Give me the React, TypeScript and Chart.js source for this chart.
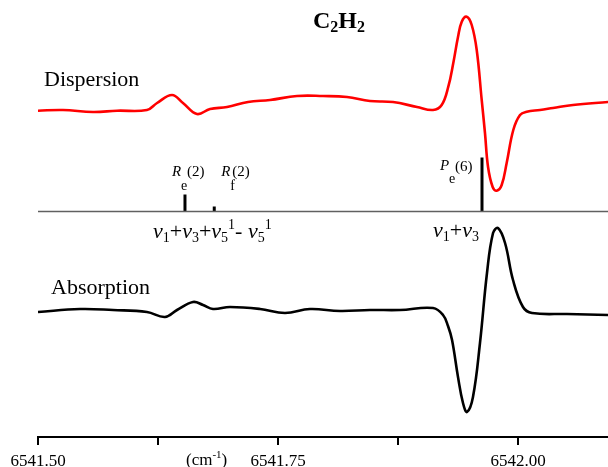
import React, { useEffect, useRef } from "react";
import { Chart, registerables } from "chart.js";

Chart.register(...registerables);

// Wavenumber axis (cm-1)
const X_MIN = 6541.5;
const X_MAX = 6542.09375;
const X_STEP = 0.125;
const X_LABEL_STEP = 0.25;

// Dispersion signal (arbitrary units)
const dispX = [
  6541.5, 6541.526, 6541.5573, 6541.5823, 6541.6135, 6541.624, 6541.6396, 6541.651,
  6541.6656, 6541.6792, 6541.6969, 6541.7188, 6541.7417, 6541.7698, 6541.7969,
  6541.8219, 6541.8458, 6541.8698, 6541.8948, 6541.9115, 6541.9205, 6541.9274,
  6541.9326, 6541.9375, 6541.9414, 6541.9466, 6541.9518, 6541.957, 6541.9622,
  6541.9656, 6541.9688, 6541.9736, 6541.9778, 6541.983, 6541.9882, 6541.9951,
  6542.0021, 6542.0091, 6542.0229, 6542.0365, 6542.0573, 6542.0938,
];
const dispY = [
  -0.7, 0, -2, -0.7, 0, 7, 15, 7,
  -4, 1, 3, 8, 10, 14, 14,
  13, 9, 8, 3, 0, 5, 23.3,
  47, 73, 88.3, 93.3, 85, 60, 10,
  -23, -57, -77, -80.7, -75, -53, -20,
  -5, -1.7, 0, 2, 5, 8,
];

// Absorption signal (arbitrary units)
const absX = [
  6541.5, 6541.5438, 6541.5781, 6541.6135, 6541.6323, 6541.6448, 6541.6615, 6541.6719,
  6541.6823, 6541.7, 6541.7313, 6541.7573, 6541.7833, 6541.8146, 6541.8458, 6541.8771,
  6541.9115, 6541.9219, 6541.9271, 6541.9313, 6541.9375, 6541.9427, 6541.9469, 6541.9531,
  6541.9604, 6541.9677, 6541.974, 6541.9792, 6541.9865, 6541.9948, 6542.0052, 6542.0146,
  6542.051, 6542.0938,
];
const absY = [
  0, 3, 2, 0, -5, 2, 10, 7,
  3, 5, 3, -1, 3, 1, 2, 2,
  4, -3, -14, -28, -65, -91, -100, -85,
  -31, 39, 79, 84, 69, 32, 5, -1,
  -2, -3,
];

// Line positions (stick spectrum)
const stickNames = ["Re(2)", "Rf(2)", "Pe(6)"];
const stickX = [6541.6531, 6541.6836, 6541.9625];
const stickH = [17, 5, 54];

// vertical offsets of the stacked traces (in y-scale units)
const Y_MAX = 437;
const DISP_OFFSET = 327;
const ABS_OFFSET = 125;
const STICK_BASE = 225.5;

const SERIF = "'Liberation Serif', 'Times New Roman', serif";

function rich(ctx: CanvasRenderingContext2D, x: number, y: number, parts: [string, string, number][]) {
  let cx = x;
  for (const [t, f, dy] of parts) {
    ctx.font = f;
    ctx.fillText(t, cx, y + dy);
    cx += ctx.measureText(t).width;
  }
}

const textPlugin = {
  id: "texts",
  afterDraw(chart: any) {
    const ctx: CanvasRenderingContext2D = chart.ctx;
    const xs = chart.scales.x;
    ctx.save();
    ctx.fillStyle = "#000";
    ctx.textBaseline = "alphabetic";
    ctx.textAlign = "left";

    // title
    const B = `bold 24px ${SERIF}`;
    const Bs = `bold 16px ${SERIF}`;
    rich(ctx, 313, 28, [["C", B, 0], ["2", Bs, 4], ["H", B, 0], ["2", Bs, 4]]);

    // trace names
    ctx.font = `22px ${SERIF}`;
    ctx.fillText("Dispersion", 44, 86);
    ctx.fillText("Absorption", 51, 294);

    // stick labels
    const I15 = `italic 15px ${SERIF}`;
    const N15 = `15px ${SERIF}`;
    const N14 = `14px ${SERIF}`;
    const p0 = xs.getPixelForValue(stickX[0]);
    const p1 = xs.getPixelForValue(stickX[1]);
    const p2 = xs.getPixelForValue(stickX[2]);
    ctx.font = I15; ctx.fillText("R", p0 - 13, 176);
    ctx.font = N14; ctx.fillText("e", p0 - 4, 190);
    ctx.font = N15; ctx.fillText("(2)", p0 + 2, 176);
    ctx.font = I15; ctx.fillText("R", p1 + 7, 176);
    ctx.font = N14; ctx.fillText("f", p1 + 16, 190);
    ctx.font = N15; ctx.fillText("(2)", p1 + 18, 176);
    ctx.font = I15; ctx.fillText("P", p2 - 42, 170);
    ctx.font = N14; ctx.fillText("e", p2 - 33, 183);
    ctx.font = N15; ctx.fillText("(6)", p2 - 27, 171);

    // band assignments
    const G = `italic 22px ${SERIF}`;
    const N = `22px ${SERIF}`;
    const S = `14px ${SERIF}`;
    rich(ctx, 153, 238, [
      ["\u03BD", G, 0], ["1", S, 4], ["+", N, 0],
      ["\u03BD", G, 0], ["3", S, 4], ["+", N, 0],
      ["\u03BD", G, 0], ["5", S, 4], ["1", S, -9], ["-", N, 0], [" ", N, 0],
      ["\u03BD", G, 0], ["5", S, 4], ["1", S, -9],
    ]);
    rich(ctx, 433, 237, [
      ["\u03BD", G, 0], ["1", S, 4], ["+", N, 0],
      ["\u03BD", G, 0], ["3", S, 4],
    ]);

    // axis unit
    rich(ctx, 186, 465, [["(cm", `17px ${SERIF}`, 0], ["-1", `11px ${SERIF}`, -7], [")", `17px ${SERIF}`, 0]]);
    ctx.restore();
  },
};

export default function App() {
  const ref = useRef<HTMLCanvasElement | null>(null);
  useEffect(() => {
    if (!ref.current) return;
    const disp = dispX.map((x, i) => ({ x, y: dispY[i] + DISP_OFFSET }));
    const abs = absX.map((x, i) => ({ x, y: absY[i] + ABS_OFFSET }));
    const stickSets = stickX.map((x, i) => ({
      label: stickNames[i],
      data: [{ x, y: STICK_BASE }, { x, y: STICK_BASE + stickH[i] }],
      borderColor: "#000",
      borderWidth: 3,
      pointRadius: 0,
      borderCapStyle: "butt" as const,
    }));
    const chart = new Chart(ref.current, {
      type: "line",
      data: {
        datasets: [
          {
            label: "baseline",
            data: [{ x: X_MIN, y: STICK_BASE }, { x: X_MAX, y: STICK_BASE }],
            borderColor: "#606060",
            borderWidth: 1.7,
            pointRadius: 0,
          },
          ...stickSets,
          {
            label: "Dispersion",
            data: disp,
            borderColor: "#ff0000",
            borderWidth: 2.6,
            pointRadius: 0,
            tension: 0.4,
          },
          {
            label: "Absorption",
            data: abs,
            borderColor: "#000000",
            borderWidth: 2.6,
            pointRadius: 0,
            tension: 0.4,
          },
        ],
      },
      options: {
        animation: false,
        responsive: false,
        devicePixelRatio: 1,
        layout: { padding: { left: 38, right: 0, top: 0, bottom: 0 } },
        plugins: { legend: { display: false }, tooltip: { enabled: false }, title: { display: false } },
        scales: {
          x: {
            type: "linear",
            position: "bottom",
            min: X_MIN,
            max: X_MAX,
            afterFit: (s: any) => { s.height = 30; },
            border: { display: true, color: "#000", width: 2 },
            grid: { display: true, drawOnChartArea: false, drawTicks: true, tickLength: 8, color: "#000", lineWidth: 2 },
            ticks: {
              stepSize: X_STEP,
              includeBounds: false,
              autoSkip: false,
              maxRotation: 0,
              padding: 6,
              color: "#000",
              font: { family: "'Liberation Serif'", size: 17 },
              callback: (v: any) => {
                const k = (Number(v) - X_MIN) / X_LABEL_STEP;
                return Math.abs(k - Math.round(k)) < 1e-6 ? Number(v).toFixed(2) : "";
              },
            },
          },
          y: { display: false, min: 0, max: Y_MAX },
        },
      },
      plugins: [textPlugin],
    });
    return () => chart.destroy();
  }, []);
  return (
    <div style={{ position: "absolute", left: 0, top: 0, width: 608, height: 467, background: "#fff" }}>
      <canvas ref={ref} width={608} height={467} />
    </div>
  );
}
